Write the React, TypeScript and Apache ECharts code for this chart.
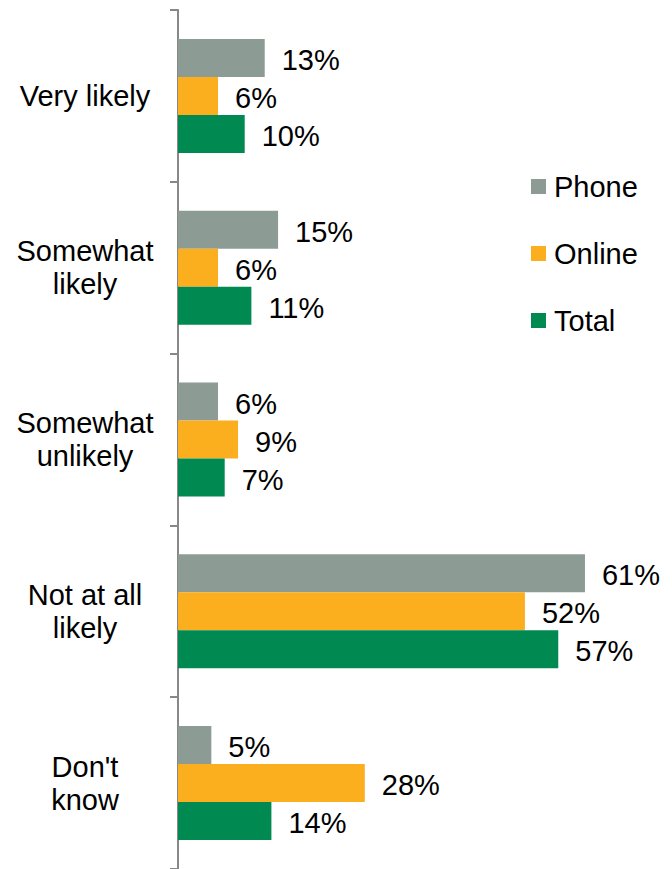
import React, { useEffect, useRef } from "react";
import * as echarts from "echarts";

const categories = ["Very likely", "Somewhat\nlikely", "Somewhat\nunlikely", "Not at all\nlikely", "Don't\nknow"];
const phone = [13, 15, 6, 61, 5];
const online = [6, 6, 9, 52, 28];
const total = [10, 11, 7, 57, 14];
const seriesNames = ["Phone", "Online", "Total"];
const colors = ["#8c9c94", "#fbaf1f", "#008a52"];

const FONT = "'Liberation Sans', Arial, sans-serif";

export default function App() {
  const ref = useRef<HTMLDivElement>(null);
  useEffect(() => {
    if (!ref.current) return;
    const chart = echarts.init(ref.current, undefined, { renderer: "svg" });
    const data = [phone, online, total];
    chart.setOption({
      animation: false,
      backgroundColor: "#ffffff",
      textStyle: { fontFamily: FONT },
      grid: { left: 178, top: 10, width: 467, height: 861, containLabel: false },
      legend: {
        orient: "vertical",
        left: 531,
        top: 172,
        padding: 0,
        itemWidth: 15,
        itemHeight: 15,
        itemGap: 38,
        icon: "rect",
        data: seriesNames,
        textStyle: { fontSize: 29, color: "#000", fontFamily: FONT, padding: [0, 0, 0, 3], lineHeight: 29 },
      },
      xAxis: {
        type: "value",
        min: 0,
        max: 70,
        show: false,
        splitLine: { show: false },
      },
      yAxis: {
        type: "category",
        inverse: true,
        data: categories,
        axisLine: { show: true, lineStyle: { color: "#888888", width: 2 } },
        axisTick: { show: true, length: 8, lineStyle: { color: "#888888", width: 2 } },
        axisLabel: {
          fontSize: 29,
          color: "#000",
          fontFamily: FONT,
          align: "center",
          margin: 93,
          lineHeight: 33,
          padding: [3, 0, 0, 0],
        },
      },
      series: seriesNames.map((name, i) => ({
        name,
        type: "bar",
        data: data[i],
        barWidth: 38,
        barGap: "0%",
        itemStyle: { color: colors[i] },
        label: {
          show: true,
          position: "right",
          distance: 17,
          offset: [0, 2],
          formatter: "{c}%",
          fontSize: 29,
          color: "#000",
          fontFamily: FONT,
        },
      })),
    });
    return () => chart.dispose();
  }, []);
  return (
    <div
      ref={ref}
      style={{ position: "fixed", left: 0, top: 0, width: 672, height: 869 }}
    />
  );
}
